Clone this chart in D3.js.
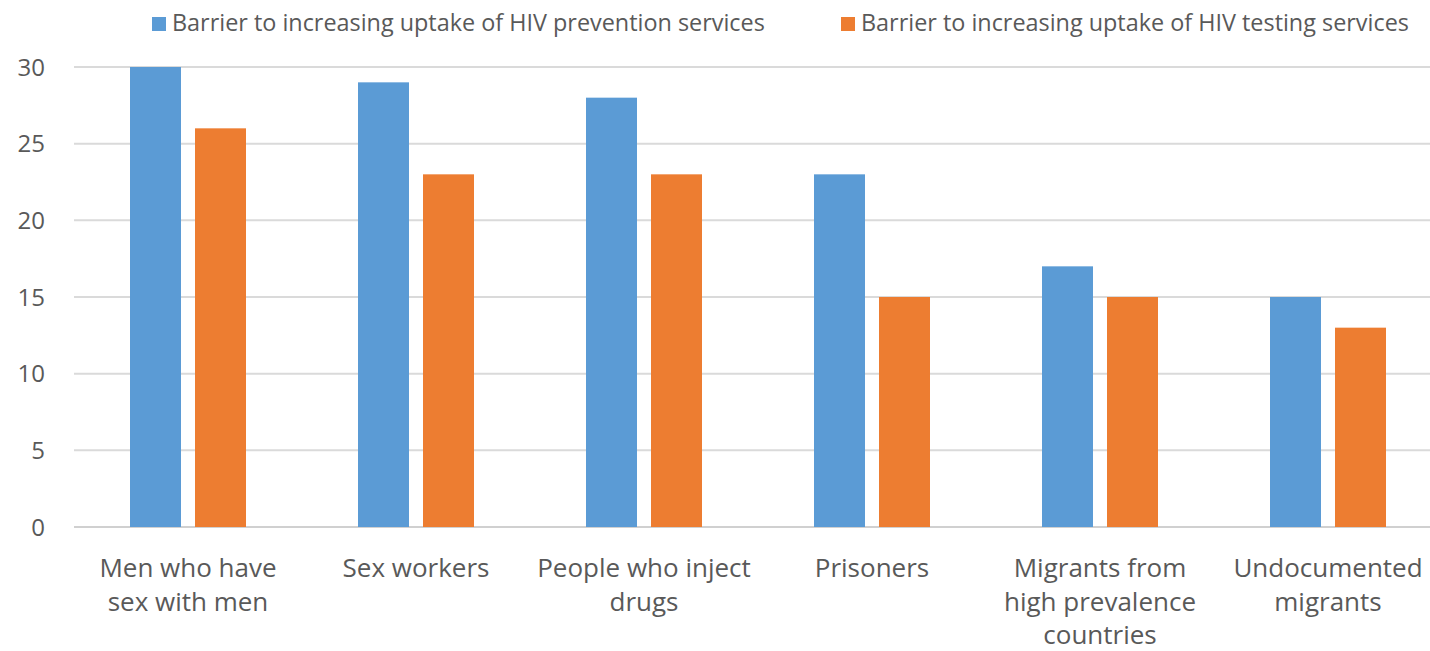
<!DOCTYPE html>
<html><head><meta charset="utf-8">
<script src="https://cdn.jsdelivr.net/npm/d3@7"></script>
<style>body{margin:0;background:#fff}svg{display:block}text{font-family:"Open Sans","Noto Sans",sans-serif;fill:#595959}</style>
</head><body>
<svg id="c" width="1430" height="651"></svg>
<script>
const categories = [
  ["Men who have","sex with men"],
  ["Sex workers"],
  ["People who inject","drugs"],
  ["Prisoners"],
  ["Migrants from","high prevalence","countries"],
  ["Undocumented","migrants"]
];
const seriesNames = ["Barrier to increasing uptake of HIV prevention services","Barrier to increasing uptake of HIV testing services"];
const prevention = [30, 29, 28, 23, 17, 15];
const testing = [26, 23, 23, 15, 15, 13];
const yTicks = [0,5,10,15,20,25,30];
const colors = ["#5B9BD5","#ED7D31"];

const svg = d3.select("#c");
const x = d3.scaleBand().domain(d3.range(categories.length)).range([74, 1442]).paddingInner(0).paddingOuter(0);
const y = d3.scaleLinear().domain([0,30]).range([527, 67]);
const inner = d3.scaleBand().domain([0,1]).range([x.bandwidth()/2-58, x.bandwidth()/2+58]).paddingInner(14/65);

svg.append("g").selectAll("line").data(yTicks).join("line")
  .attr("x1",74).attr("x2",1430).attr("y1",d=>y(d)).attr("y2",d=>y(d))
  .attr("stroke",d=>d===0?"#d0d0d0":"#dadada").attr("stroke-width",2);

svg.append("g").selectAll("text").data(yTicks).join("text")
  .attr("x",45).attr("y",d=>y(d)).attr("dy","0.36em").attr("text-anchor","end")
  .style("font-size","24px").text(d=>d);

const series = [prevention, testing];
series.forEach((vals,si)=>{
  svg.append("g").selectAll("rect").data(vals).join("rect")
    .attr("x",(d,i)=>x(i)+inner(si)).attr("width",inner.bandwidth())
    .attr("y",d=>y(d)).attr("height",d=>y(0)-y(d)).attr("fill",colors[si]);
});

const lab = svg.append("g").selectAll("text").data(categories).join("text")
  .attr("text-anchor","middle").style("font-size","26px");
lab.each(function(lines,i){
  const t = d3.select(this);
  lines.forEach((l,j)=>t.append("tspan").attr("x",x(i)+x.bandwidth()/2).attr("y",577+33.5*j).text(l));
});

const legX = [152, 841];
seriesNames.forEach((n,i)=>{
  svg.append("rect").attr("x",legX[i]).attr("y",17).attr("width",14).attr("height",14).attr("fill",colors[i]);
  svg.append("text").attr("x",legX[i]+20).attr("y",31).style("font-size","23.4px").text(n);
});
</script>
</body></html>
